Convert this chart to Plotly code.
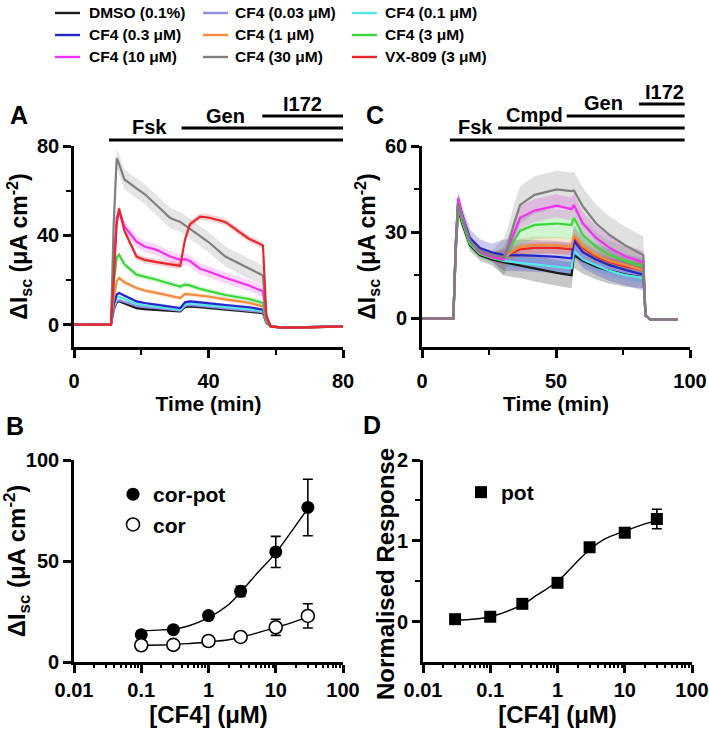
import math

import plotly.graph_objects as go

FONT = "Liberation Sans, Arial, Helvetica, sans-serif"

# ---------------- series (shared legend) ----------------
SERIES = ["DMSO (0.1%)", "CF4 (0.03 μM)", "CF4 (0.1 μM)",
          "CF4 (0.3 μM)", "CF4 (1 μM)", "CF4 (3 μM)",
          "CF4 (10 μM)", "CF4 (30 μM)", "VX-809 (3 μM)"]
COLORS = ["#1a1a1a", "#8f8fe6", "#55e6e6", "#2424c8", "#f28a3c",
          "#3cd63c", "#f032f0", "#7f7f7f", "#e8262b"]

# ---------------- panel A: Isc time course (uA cm-2) ----------------
T_A = [0, 11.0, 11.8, 12.7, 13.4, 15, 18.6, 21, 24.6, 28.6, 31.6, 33, 34.5,
       37.5, 40, 45, 52, 56.2, 57.2, 58.5, 62, 70, 80]
ISC_A = [
    [0, 0, 6.5, 10, 10.5, 9.5, 7.4, 7, 6.6, 6.2, 6, 8, 8.2, 7.8, 7.4, 6.6, 5.8, 5.2, 0.8, -0.8, -1.3, -1.2, -0.8],
    [0, 0, 7, 10.5, 11, 10.3, 8.5, 8, 7.4, 6.8, 6.3, 8.5, 8.8, 8.4, 8, 7.2, 6.3, 5.6, 1, -0.8, -1.3, -1.2, -0.8],
    [0, 0, 8, 12, 12.5, 11.5, 9.3, 8.7, 8, 7.3, 6.8, 9, 9.5, 9.1, 8.8, 8, 7, 6, 1, -0.8, -1.3, -1.2, -0.8],
    [0, 0, 9, 13.5, 14.2, 13, 10.4, 9.7, 8.9, 8, 7.4, 10, 10.4, 10, 9.7, 8.8, 7.8, 6.7, 1.2, -0.8, -1.3, -1.2, -0.8],
    [0, 0, 12, 19.5, 20.9, 19, 16.4, 15.3, 14.2, 12.8, 11.9, 13.8, 13.6, 13, 12.6, 11.3, 9.8, 8.2, 1.5, -0.8, -1.3, -1.2, -0.8],
    [0, 0, 18, 30, 31.3, 27, 22.4, 21.5, 20.1, 18.3, 17.1, 17.9, 17.6, 16, 15, 13.3, 11.5, 9.7, 2, -0.8, -1.3, -1.2, -0.8],
    [0, 0, 28, 48, 50.6, 44, 37.2, 35, 33.5, 30.5, 29, 29.3, 28.5, 25, 23.8, 21, 17.5, 15, 3, -0.8, -1.3, -1.2, -0.8],
    [0, 0, 45, 74.5, 72, 65, 61, 58.5, 53.5, 47.7, 46, 44.5, 43, 39.5, 37, 30.5, 25, 22, 4, -0.8, -1.3, -1.2, -0.8],
    [0, 0, 20, 45, 52, 42, 30.5, 29, 28, 27, 26.3, 38, 45, 48.4, 48, 46, 38.5, 35.5, 4, -0.8, -1.3, -1.2, -0.8],
]
SEM_A = [0.6, 0.6, 0.6, 0.7, 1.0, 1.2, 2.5, 4.5, 1.5]
WINDOW_A = [11.8, 56.2]          # stimulated period where SEM bars are shown
EVENTS_A = ["Fsk", "Gen", "I172"]
EVENT_T_A = [10.4, 32, 56]
END_A = 80

# ---------------- panel C: Isc time course (uA cm-2) ----------------
T_C = [0, 11.7, 12.6, 13.5, 15, 17.9, 21.6, 26, 30.5, 32, 34, 36.6, 42, 50.3,
       55.8, 56.7, 60, 65, 70, 76, 82.6, 83.4, 85, 90, 95.5]
ISC_C = [
    [0, 0, 23, 38, 33, 25.5, 22, 20.5, 19.5, 19.2, 18.8, 18.5, 17.3, 15.8, 15, 22, 20, 18, 16.5, 15.5, 15, 1, -0.3, -0.5, -0.4],
    [0, 0, 24, 40, 35, 26.5, 23, 21.5, 20.5, 20.3, 20, 19.8, 19.3, 18.5, 18, 24.5, 21, 19, 17.5, 16, 15, 1, -0.3, -0.5, -0.4],
    [0, 0, 24, 39, 34, 26, 22.5, 21, 20, 19.8, 19.5, 19.3, 18.8, 18, 17.4, 23.5, 20.5, 18.5, 16.5, 15, 14, 1, -0.3, -0.5, -0.4],
    [0, 0, 26, 41, 36, 28, 24.5, 23, 22, 22, 22, 22, 21.8, 21.4, 20.9, 27, 23, 20.5, 18.5, 16.8, 15.2, 1, -0.3, -0.5, -0.4],
    [0, 0, 25, 40, 34, 26.5, 23, 21.5, 20.8, 22, 23.5, 24.8, 25.5, 25.4, 24.8, 28.8, 25, 22, 20, 18.5, 16.8, 1, -0.3, -0.5, -0.4],
    [0, 0, 25, 40, 34, 26, 22.5, 21, 20.2, 23, 26.5, 30.5, 32.5, 33, 32.5, 35, 29, 25, 22, 20, 18, 1, -0.3, -0.5, -0.4],
    [0, 0, 27, 42, 36, 27, 23, 21.3, 20.5, 24, 29, 35, 37.5, 39.2, 38, 39.5, 33, 28, 24.5, 21.5, 19.5, 1, -0.3, -0.5, -0.4],
    [0, 0, 26, 40, 35, 27, 23.5, 22, 21.3, 25, 32, 39.5, 43, 44.9, 44.3, 44.5, 39, 33, 29, 25.3, 22, 1, -0.3, -0.5, -0.4],
    [0, 0, 25, 41, 35, 26.5, 23, 21.5, 20.8, 22, 23, 24, 24.5, 24.5, 24, 28, 24.5, 21.5, 19.5, 18, 17, 1, -0.3, -0.5, -0.3],
]
# SEM before / after compound addition
SEM_C = [(2.0, 4.5), (1.5, 2.5), (1.5, 2.0), (3.0, 5.5), (1.5, 3.0),
         (1.5, 5.0), (1.5, 4.0), (1.5, 6.5), (1.5, 2.0)]
WINDOW_C = [12.6, 82.6]
EVENTS_C = ["Fsk", "Cmpd", "Gen", "I172"]
EVENT_T_C = [10.4, 28.4, 54, 81]
END_C = 98
ORDER_C = [8, 0, 1, 2, 3, 4, 5, 6, 7]   # VX-809 sits underneath in panel C

# ---------------- panel B: concentration response ----------------
CONC_B = [0.1, 0.3, 1, 3, 10, 30]
CORPOT = [13.5, 16, 23, 35, 54.5, 76.5]
CORPOT_ERR = [1.0, 1.0, 1.5, 2.5, 7.7, 14]
COR = [8.3, 8.5, 10.4, 12.4, 17.2, 22.8]
COR_ERR = [0.8, 0.8, 1.0, 1.2, 4.0, 6.0]
FIT_X_B = [0.1, 0.2, 0.3, 0.5, 1, 2, 3, 5, 10, 20, 30]
FIT_CORPOT = [15.4, 15.9, 16.3, 17.8, 22, 28.5, 34.5, 43, 54, 67.8, 76]
FIT_COR = [8.3, 8.4, 8.6, 9.1, 9.9, 11, 12.3, 14.2, 17, 20.2, 22.5]

# ---------------- panel D: normalised potentiation ----------------
CONC_D = [0.03, 0.1, 0.3, 1, 3, 10, 30]
POT = [0.03, 0.06, 0.22, 0.48, 0.92, 1.1, 1.27]
POT_ERR = [0.02, 0.02, 0.03, 0.04, 0.05, 0.05, 0.12]
FIT_X_D = [0.03, 0.1, 0.3, 0.5, 1, 2, 3, 5, 10, 20, 30]
FIT_POT = [0.017, 0.06, 0.21, 0.33, 0.5, 0.75, 0.89, 1.02, 1.12, 1.21, 1.25]

# axis ranges (log axes in decades) and unlabelled tick positions
RANGE_TA = [0, 80]
RANGE_IA = [-10, 80]
RANGE_TC = [0, 100]
RANGE_IC = [-10, 60]
RANGE_CONC = [-2, 2]
RANGE_B = [0, 100]
RANGE_D = [-0.5, 2]
MINOR_TA = [20, 60]
MINOR_IA = [20, 60]
MINOR_TC = [25, 75]
MINOR_IC = [15, 45]
MINOR_D = [0.5, 1.5]
MINOR_CONC = [m * 10.0 ** e for e in range(-2, 2) for m in range(2, 10)]


def rgba(hex_color, a):
    h = hex_color.lstrip("#")
    r, g, b = (int(h[i:i + 2], 16) for i in (0, 2, 4))
    return f"rgba({r},{g},{b},{a})"


def px_x(p):
    return p / 709


def px_y(p):
    return 1 - p / 730


fig = go.Figure()


def add_timecourse(t, isc, sem_at, xa, ya, alpha, order):
    # error bands first, then the mean traces on top
    for i in order:
        vals = isc[i]
        sem = [sem_at(i, tt) for tt in t]
        up = [v + s for v, s in zip(vals, sem)]
        lo = [v - s for v, s in zip(vals, sem)]
        fig.add_trace(go.Scatter(
            x=list(t) + list(t)[::-1], y=up + lo[::-1],
            fill="toself", mode="lines", line=dict(width=0),
            fillcolor=rgba(COLORS[i], alpha),
            hoverinfo="skip", showlegend=False, xaxis=xa, yaxis=ya))
    for i in order:
        fig.add_trace(go.Scatter(
            x=t, y=isc[i], mode="lines", name=SERIES[i],
            line=dict(color=COLORS[i], width=2.2),
            showlegend=False, xaxis=xa, yaxis=ya))


def sem_a(i, tt):
    return SEM_A[i] if WINDOW_A[0] <= tt <= WINDOW_A[1] else 0


def sem_c(i, tt):
    if not (WINDOW_C[0] <= tt <= WINDOW_C[1]):
        return 0
    return SEM_C[i][0] if tt < EVENT_T_C[1] + 2 else SEM_C[i][1]


add_timecourse(T_A, ISC_A, sem_a, "x", "y", 0.2, range(len(SERIES)))
add_timecourse(T_C, ISC_C, sem_c, "x2", "y2", 0.24, ORDER_C)

# ---- panel B
fig.add_trace(go.Scatter(x=FIT_X_B, y=FIT_CORPOT, mode="lines", line=dict(color="black", width=1.4, shape="spline"),
                         showlegend=False, xaxis="x3", yaxis="y3"))
fig.add_trace(go.Scatter(x=FIT_X_B, y=FIT_COR, mode="lines", line=dict(color="black", width=1.4, shape="spline"),
                         showlegend=False, xaxis="x3", yaxis="y3"))
fig.add_trace(go.Scatter(x=CONC_B, y=CORPOT, mode="markers", name="cor-pot",
                         marker=dict(symbol="circle", size=13, color="black"),
                         error_y=dict(type="data", array=CORPOT_ERR, color="black", thickness=1.6, width=5),
                         legend="legend", xaxis="x3", yaxis="y3"))
fig.add_trace(go.Scatter(x=CONC_B, y=COR, mode="markers", name="cor",
                         marker=dict(symbol="circle", size=13, color="white", line=dict(color="black", width=1.6)),
                         error_y=dict(type="data", array=COR_ERR, color="black", thickness=1.6, width=5),
                         legend="legend", xaxis="x3", yaxis="y3"))

# ---- panel D
fig.add_trace(go.Scatter(x=FIT_X_D, y=FIT_POT, mode="lines", line=dict(color="black", width=1.4, shape="spline"),
                         showlegend=False, xaxis="x4", yaxis="y4"))
fig.add_trace(go.Scatter(x=CONC_D, y=POT, mode="markers", name="pot",
                         marker=dict(symbol="square", size=12, color="black"),
                         error_y=dict(type="data", array=POT_ERR, color="black", thickness=1.6, width=5),
                         legend="legend2", xaxis="x4", yaxis="y4"))

axis_common = dict(showline=True, linewidth=2.6, linecolor="black", ticks="outside",
                   ticklen=8, tickwidth=2.6, tickcolor="black", showgrid=False,
                   zeroline=False, automargin=False, tickfont=dict(size=20, color="black"))
ytitle = "ΔI<sub>sc</sub> (μA cm<sup>-2</sup>)"

dom_top_x = [px_x(74), px_x(343)]
dom_top_x2 = [px_x(422), px_x(690)]
dom_bot_x2 = [px_x(423), px_x(692)]
dom_top_y = [px_y(347), px_y(146)]
dom_bot_y = [px_y(662), px_y(460)]

fig.update_layout(
    template="none",
    width=709, height=730, paper_bgcolor="white", plot_bgcolor="white",
    margin=dict(l=0, r=0, t=0, b=0, autoexpand=False),
    font=dict(family=FONT, color="black", weight="bold"),
    xaxis=dict(**axis_common, domain=dom_top_x, anchor="y", range=RANGE_TA, tick0=0, dtick=40,
               ticklabelstandoff=6, title=dict(text="Time (min)", font=dict(size=21), standoff=2)),
    yaxis=dict(**axis_common, domain=dom_top_y, anchor="x", range=RANGE_IA, tick0=0, dtick=40,
               title=dict(text=ytitle, font=dict(size=23), standoff=3)),
    xaxis2=dict(**axis_common, domain=dom_top_x2, anchor="y2", range=RANGE_TC, tick0=0, dtick=50,
                ticklabelstandoff=6, title=dict(text="Time (min)", font=dict(size=21), standoff=2)),
    yaxis2=dict(**axis_common, domain=dom_top_y, anchor="x2", range=RANGE_IC, tick0=0, dtick=30,
                title=dict(text=ytitle, font=dict(size=23), standoff=3)),
    xaxis3=dict(**axis_common, domain=dom_top_x, anchor="y3", type="log", range=RANGE_CONC, dtick=1,
                title=dict(text="[CF4] (μM)", font=dict(size=24), standoff=2)),
    yaxis3=dict(**axis_common, domain=dom_bot_y, anchor="x3", range=RANGE_B, tick0=0, dtick=50,
                title=dict(text=ytitle, font=dict(size=24), standoff=3)),
    xaxis4=dict(**axis_common, domain=dom_bot_x2, anchor="y4", type="log", range=RANGE_CONC, dtick=1,
                title=dict(text="[CF4] (μM)", font=dict(size=24), standoff=2)),
    yaxis4=dict(**axis_common, domain=dom_bot_y, anchor="x4", range=RANGE_D, tick0=0, dtick=1),
)

# unlabelled (minor) ticks: extra axes laid over the main ones that only draw tick marks
tick_only = dict(showline=False, showgrid=False, zeroline=False, showticklabels=False,
                 ticks="outside", tickcolor="black", tickmode="array", automargin=False)
overlays_x = [("xaxis5", "x", "y", RANGE_TA, MINOR_TA, "linear", 7, 2.4),
              ("xaxis6", "x2", "y2", RANGE_TC, MINOR_TC, "linear", 7, 2.4),
              ("xaxis7", "x3", "y3", RANGE_CONC, MINOR_CONC, "log", 5, 1.8),
              ("xaxis8", "x4", "y4", RANGE_CONC, MINOR_CONC, "log", 5, 1.8)]
overlays_y = [("yaxis5", "y", "x", RANGE_IA, MINOR_IA),
              ("yaxis6", "y2", "x2", RANGE_IC, MINOR_IC),
              ("yaxis7", "y4", "x4", RANGE_D, MINOR_D)]
for name, over, anchor, rng, vals, kind, ln, w in overlays_x:
    fig.update_layout({name: dict(**tick_only, overlaying=over, anchor=anchor, side="bottom", type=kind,
                                  range=rng, tickvals=vals, ticklen=ln, tickwidth=w)})
    # an empty trace keeps the overlay subplot alive
    fig.add_trace(go.Scatter(x=[], y=[], xaxis="x" + name[5:], yaxis=anchor,
                             showlegend=False, hoverinfo="skip"))
for name, over, anchor, rng, vals in overlays_y:
    fig.update_layout({name: dict(**tick_only, overlaying=over, anchor=anchor, side="left",
                                  range=rng, tickvals=vals, ticklen=7, tickwidth=2.4)})
    fig.add_trace(go.Scatter(x=[], y=[], xaxis=anchor, yaxis="y" + name[5:],
                             showlegend=False, hoverinfo="skip"))

leg_common = dict(orientation="v", xanchor="left", yanchor="top", bgcolor="rgba(0,0,0,0)",
                  tracegroupgap=0, itemwidth=30, font=dict(size=21))
fig.update_layout(
    legend=dict(**leg_common, x=px_x(113), y=px_y(474)),
    legend2=dict(**leg_common, x=px_x(461), y=px_y(472)),
)

# y title of panel D sits a little low in the original
fig.add_annotation(text="Normalised Response", xref="paper", yref="paper", x=px_x(385), y=px_y(574),
                   textangle=-90, xanchor="center", yanchor="middle", showarrow=False, font=dict(size=24))

# shared colour key for panels A and C (three columns)
key_rows = [13, 35, 57]
key_line_x = [(55, 80), (203, 228), (352, 377)]
key_text_x = [87, 233, 383]
for i, (name, color) in enumerate(zip(SERIES, COLORS)):
    row, col = divmod(i, 3)
    x0, x1 = key_line_x[col]
    fig.add_shape(type="line", xref="paper", yref="paper", x0=px_x(x0), x1=px_x(x1),
                  y0=px_y(key_rows[row]), y1=px_y(key_rows[row]), line=dict(color=color, width=2.4))
    fig.add_annotation(text=name, xref="paper", yref="paper", x=px_x(key_text_x[col]), y=px_y(key_rows[row]),
                       xanchor="left", yanchor="middle", showarrow=False, font=dict(size=15.5))

# treatment bars
bar_rows = [px_y(140), px_y(128), px_y(116), px_y(104)]
label_rows_A = [px_y(127), px_y(116), px_y(104)]
label_rows_C = [px_y(127), px_y(115), px_y(103), px_y(92)]
label_x_A = [22.6, 45.2, 68]
label_x_C = [19.8, 41.8, 67.9, 90.3]
for k, (name, t0) in enumerate(zip(EVENTS_A, EVENT_T_A)):
    fig.add_shape(type="line", xref="x", yref="paper", x0=t0, x1=END_A,
                  y0=bar_rows[k], y1=bar_rows[k], line=dict(color="black", width=3))
    fig.add_annotation(text=name, xref="x", yref="paper", x=label_x_A[k], y=label_rows_A[k],
                       xanchor="center", yanchor="middle", showarrow=False, font=dict(size=20))
for k, (name, t0) in enumerate(zip(EVENTS_C, EVENT_T_C)):
    fig.add_shape(type="line", xref="x2", yref="paper", x0=t0, x1=END_C,
                  y0=bar_rows[k], y1=bar_rows[k], line=dict(color="black", width=3))
    fig.add_annotation(text=name, xref="x2", yref="paper", x=label_x_C[k], y=label_rows_C[k],
                       xanchor="center", yanchor="middle", showarrow=False, font=dict(size=20))

for letter, (x, y) in zip("ABCD", [(19, 115), (15, 426), (375, 115), (372, 425)]):
    fig.add_annotation(text=letter, xref="paper", yref="paper", x=px_x(x), y=px_y(y),
                       xanchor="center", yanchor="middle", showarrow=False, font=dict(size=25))

# the browser's default 8px body margin would shift the whole figure
fig.write_html("out.html", config={"displayModeBar": False},
               post_script="document.body.style.margin = '0px';")
